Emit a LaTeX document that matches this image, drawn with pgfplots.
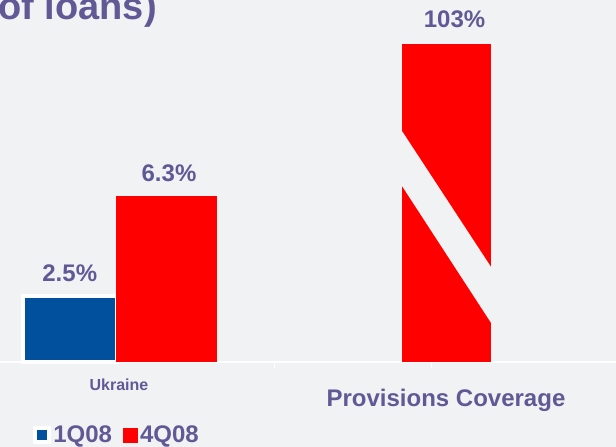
\documentclass[border=0pt]{standalone}
\usepackage{pgfplots}
\pgfplotsset{compat=1.18}
\usepackage{fontspec}
\setmainfont{Liberation Sans}
\definecolor{bg}{HTML}{F1F2F4}
\definecolor{txt}{HTML}{5F5A96}
\definecolor{qblue}{HTML}{00509E}
\definecolor{qred}{HTML}{FF0000}
\begin{document}
\begin{tikzpicture}
\useasboundingbox (0,0) rectangle (616pt,447pt);
\fill[bg] (0,0) rectangle (616pt,447pt);
% title fragment (cut by the picture's left edge)
\node[anchor=base east, inner sep=0pt, text=txt, font=\fontsize{38}{44}\selectfont\bfseries] at (157pt,427pt) {(\% of loans)};
\begin{axis}[
  at={(0pt,85pt)}, anchor=south west,
  scale only axis, width=616pt, height=362pt,
  xmin=0, xmax=6.16, ymin=0, ymax=13.764,
  axis y line=none, axis x line*=bottom,
  axis line style={white, line width=1.5pt, -},
  ybar, bar shift=0pt,
  clip=false,
  /pgf/number format/assume math mode=true,
  xtick={1.19,4.46},
  xticklabels={{\fontsize{16}{18}\selectfont Ukraine},{\raisebox{-16pt}{\fontsize{24}{28}\selectfont Provisions Coverage}}},
  xticklabel style={anchor=base, yshift=-29pt, text=txt, font=\bfseries},
  major tick length=0pt,
  extra x ticks={2.74,4.31}, extra x tick labels={},
  extra x tick style={major tick length=6pt, tick align=outside, tick style={white, line width=1pt}},
  nodes near coords={\pgfmathprintnumber[fixed,fixed zerofill,precision=1,assume math mode=true]{\pgfplotspointmeta}\%},
  every node near coord/.style={anchor=base, yshift=15pt, text=txt, font=\fontsize{24}{28}\selectfont\bfseries},
  legend image code/.code={\draw[#1] (0pt,-7pt) rectangle (14pt,7pt);},
  legend columns=2,
  legend style={draw=none, fill=none, at={(axis description cs:0.049,-0.2017)}, anchor=west,
    font=\fontsize{24}{28}\selectfont\bfseries, text=txt,
    /tikz/every even column/.append style={column sep=9pt}},
]
\addplot[fill=qblue, draw=white, line width=4pt, bar width=0.945] coordinates {(0.6975,2.5)};
\addlegendentry{1Q08}
\addplot[fill=qred, draw=qred, line width=1pt, bar width=1.0, every node near coord/.append style={xshift=3pt}] coordinates {(1.66,6.3)};
\addlegendentry{4Q08}
\end{axis}
\begin{axis}[
  at={(0pt,85pt)}, anchor=south west,
  scale only axis, width=616pt, height=362pt,
  xmin=0, xmax=6.16, ymin=0, ymax=117.25,
  hide axis, clip=false,
  ybar, bar shift=0pt,
  nodes near coords={\pgfmathprintnumber[fixed,precision=0,assume math mode=true]{\pgfplotspointmeta}\%},
  every node near coord/.style={anchor=base, yshift=16pt, xshift=8pt, text=txt, font=\fontsize{24}{28}\selectfont\bfseries},
]
\addplot[fill=qred, draw=none, bar width=0.89] coordinates {(4.465,103)};
\fill[bg] (axis cs:4.00,75.8) -- (axis cs:4.93,29.8) -- (axis cs:4.93,11.7) -- (axis cs:4.00,58.0) -- cycle;
\end{axis}
\end{tikzpicture}
\end{document}
